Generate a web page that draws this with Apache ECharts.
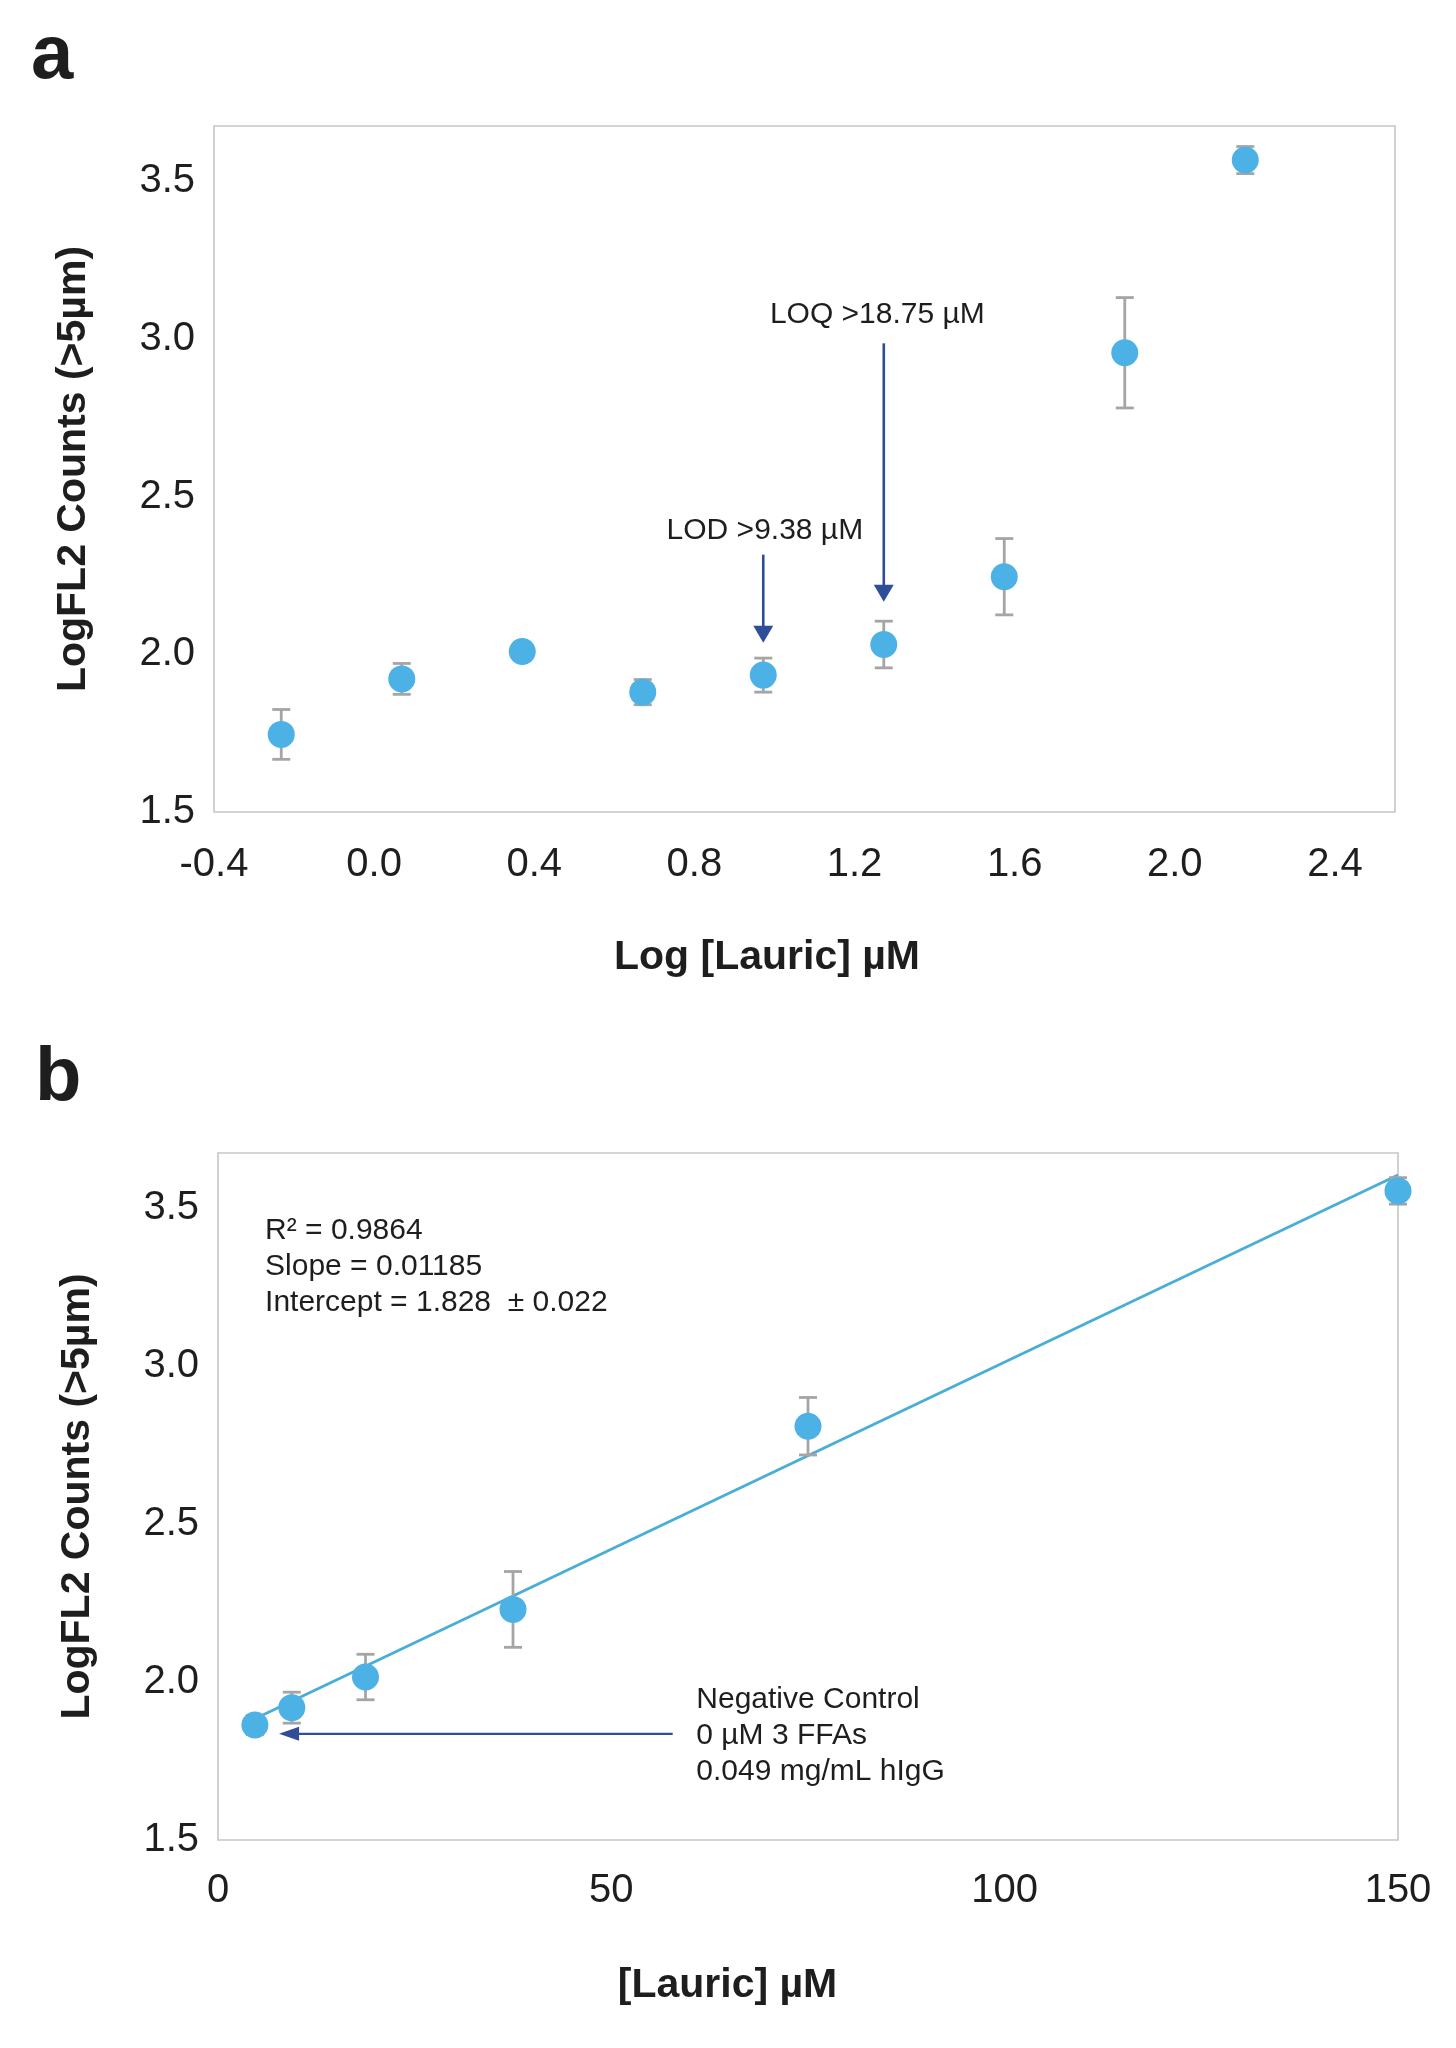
<!DOCTYPE html>
<html><head><meta charset="utf-8">
<script src="https://cdn.jsdelivr.net/npm/echarts@6/dist/echarts.min.js"></script>
<style>html,body{margin:0;padding:0;background:#fff}#c{width:1456px;height:2048px}</style>
</head><body><div id="c"></div>
<script>
// ---- Panel a data ----
const logLauric = [-0.232, 0.069, 0.370, 0.671, 0.972, 1.273, 1.574, 1.875, 2.176];
const logFL2A = [1.746, 1.922, 2.009, 1.880, 1.934, 2.031, 2.246, 2.956, 3.567];
const errA = [0.079, 0.049, 0.028, 0.040, 0.054, 0.074, 0.121, 0.175, 0.043];
const xTicksA = ['-0.4', '0.0', '0.4', '0.8', '1.2', '1.6', '2.0', '2.4'];
const yTicks = ['1.5', '2.0', '2.5', '3.0', '3.5'];
// ---- Panel b data ----
const lauric = [4.69, 9.38, 18.75, 37.5, 75, 150];
const logFL2B = [1.864, 1.919, 2.016, 2.230, 2.810, 3.555];
const errB = [0.030, 0.049, 0.072, 0.120, 0.091, 0.042];
const xTicksB = ['0', '50', '100', '150'];
const fitSlope = 0.01185, fitIntercept = 1.828;
const fitRange = [4.69, 150];
// ---- Annotations (data coordinates) ----
const lodArrow = [0.972, 2.316, 2.037];
const loqArrow = [1.273, 2.986, 2.167];
const lodLabel = [0.976, 2.393, 'LOD >9.38 µM'];
const loqLabel = [1.257, 3.078, 'LOQ >18.75 µM'];
const negArrow = [57.8, 7.76, 1.836];
const statsText = [5.98, 3.316, 'R² = 0.9864\nSlope = 0.01185\nIntercept = 1.828  ± 0.022'];
const negText = [60.8, 1.830, 'Negative Control\n0 µM 3 FFAs\n0.049 mg/mL hIgG'];

const FONT = "'Liberation Sans', Arial, sans-serif";
const MARK = '#4cb2e6', ERR = '#a5a5a5', ARROW = '#2f4e98', LINE = '#48aed8', TXT = '#1e1e1e';

const chart = echarts.init(document.getElementById('c'), null, {renderer: 'canvas'});

function errRender(params, api) {
  const x = api.value(0), y = api.value(1), e = api.value(2);
  const t = api.coord([x, y + e]), b = api.coord([x, y - e]);
  const hw = 9, st = {stroke: ERR, lineWidth: 2.8};
  return {type: 'group', children: [
    {type: 'line', shape: {x1: t[0], y1: t[1], x2: b[0], y2: b[1]}, style: st},
    {type: 'line', shape: {x1: t[0] - hw, y1: t[1], x2: t[0] + hw, y2: t[1]}, style: st},
    {type: 'line', shape: {x1: b[0] - hw, y1: b[1], x2: b[0] + hw, y2: b[1]}, style: st}
  ]};
}
function vArrowRender(params, api) {
  const x = api.value(0);
  const p0 = api.coord([x, api.value(1)]), p1 = api.coord([x, api.value(2)]);
  const ah = 17, aw = 10;
  return {type: 'group', children: [
    {type: 'line', shape: {x1: p0[0], y1: p0[1], x2: p1[0], y2: p1[1] - ah + 2}, style: {stroke: ARROW, lineWidth: 2.6}},
    {type: 'polygon', shape: {points: [[p1[0] - aw, p1[1] - ah], [p1[0] + aw, p1[1] - ah], [p1[0], p1[1]]]}, style: {fill: ARROW}}
  ]};
}
function hArrowRender(params, api) {
  const y = api.value(2);
  const p0 = api.coord([api.value(0), y]), p1 = api.coord([api.value(1), y]);
  const ah = 20, aw = 7;
  return {type: 'group', children: [
    {type: 'line', shape: {x1: p0[0], y1: p0[1], x2: p1[0] + ah - 2, y2: p1[1]}, style: {stroke: ARROW, lineWidth: 2.4}},
    {type: 'polygon', shape: {points: [[p1[0] + ah, p1[1] - aw], [p1[0] + ah, p1[1] + aw], [p1[0], p1[1]]]}, style: {fill: ARROW}}
  ]};
}
const annoText = {
  tA: [lodLabel[2], loqLabel[2]],
  tB: [statsText[2], negText[2]]
};
function textRender(align) {
  return function (params, api) {
    const p = api.coord([api.value(0), api.value(1)]);
    return {type: 'text', x: p[0], y: p[1], style: {
      text: annoText[params.seriesId][params.dataIndex], fill: TXT, font: '30px ' + FONT,
      align: align, verticalAlign: 'middle', lineHeight: 36
    }};
  };
}

function yAxis(gi) {
  return {
    type: 'value', gridIndex: gi, min: 1.5, max: 3.675, interval: 0.5,
    axisLine: {show: false}, axisTick: {show: false}, splitLine: {show: false},
    axisLabel: {showMaxLabel: false, margin: 19, fontSize: 40, fontFamily: FONT, color: TXT,
      formatter: v => yTicks[Math.round((v - 1.5) / 0.5)] || ''},
    name: 'LogFL2 Counts (>5µm)', nameLocation: 'middle', nameGap: 120,
    nameTextStyle: {fontSize: 41, fontWeight: 'bold', fontFamily: FONT, color: TXT}
  };
}

const option = {
  backgroundColor: '#fff',
  animation: false,
  title: [
    {text: 'a', left: 26, top: 14, textStyle: {fontSize: 76, fontWeight: 'bold', fontFamily: FONT, color: TXT}},
    {text: 'b', left: 30, top: 1036, textStyle: {fontSize: 76, fontWeight: 'bold', fontFamily: FONT, color: TXT}}
  ],
  grid: [
    {left: 214, top: 126, width: 1181, height: 686, show: true, borderColor: '#c6c6c6', borderWidth: 1.6, backgroundColor: '#fff'},
    {left: 218, top: 1153, width: 1180, height: 687, show: true, borderColor: '#c6c6c6', borderWidth: 1.6, backgroundColor: '#fff'}
  ],
  xAxis: [
    {type: 'value', gridIndex: 0, min: -0.4, max: 2.55, interval: 0.4,
      axisLine: {show: false}, axisTick: {show: false}, splitLine: {show: false},
      axisLabel: {showMaxLabel: false, margin: 33, fontSize: 40, fontFamily: FONT, color: TXT,
        formatter: v => xTicksA[Math.round((v + 0.4) / 0.4)] || ''},
      name: 'Log [Lauric] µM', nameLocation: 'middle', nameGap: 125,
      nameTextStyle: {fontSize: 41, fontWeight: 'bold', fontFamily: FONT, color: TXT, padding: [0, 75, 0, 0]}},
    {type: 'value', gridIndex: 1, min: 0, max: 150, interval: 50,
      axisLine: {show: false}, axisTick: {show: false}, splitLine: {show: false},
      axisLabel: {margin: 31, fontSize: 40, fontFamily: FONT, color: TXT,
        formatter: v => xTicksB[Math.round(v / 50)] || ''},
      name: '[Lauric] µM', nameLocation: 'middle', nameGap: 125,
      nameTextStyle: {fontSize: 41, fontWeight: 'bold', fontFamily: FONT, color: TXT, padding: [0, 161, 0, 0]}}
  ],
  yAxis: [yAxis(0), yAxis(1)],
  series: [
    // panel a
    {type: 'custom', xAxisIndex: 0, yAxisIndex: 0, z: 2, renderItem: errRender,
      encode: {x: 0, y: 1}, data: logLauric.map((x, i) => [x, logFL2A[i], errA[i]])},
    {type: 'scatter', xAxisIndex: 0, yAxisIndex: 0, z: 3, symbolSize: 27,
      itemStyle: {color: MARK, opacity: 1}, data: logLauric.map((x, i) => [x, logFL2A[i]])},
    {type: 'custom', xAxisIndex: 0, yAxisIndex: 0, z: 4, renderItem: vArrowRender,
      encode: {x: 0, y: 1}, data: [lodArrow, loqArrow]},
    {type: 'custom', id: 'tA', xAxisIndex: 0, yAxisIndex: 0, z: 4, renderItem: textRender('center'),
      encode: {x: 0, y: 1}, data: [[lodLabel[0], lodLabel[1]], [loqLabel[0], loqLabel[1]]]},
    // panel b
    {type: 'line', xAxisIndex: 1, yAxisIndex: 1, z: 1, symbol: 'none', silent: true,
      lineStyle: {color: LINE, width: 2.8},
      data: fitRange.map(x => [x, fitIntercept + fitSlope * x])},
    {type: 'custom', xAxisIndex: 1, yAxisIndex: 1, z: 2, renderItem: errRender,
      encode: {x: 0, y: 1}, data: lauric.map((x, i) => [x, logFL2B[i], errB[i]])},
    {type: 'scatter', xAxisIndex: 1, yAxisIndex: 1, z: 3, symbolSize: 27,
      itemStyle: {color: MARK, opacity: 1}, data: lauric.map((x, i) => [x, logFL2B[i]])},
    {type: 'custom', xAxisIndex: 1, yAxisIndex: 1, z: 4, renderItem: hArrowRender,
      encode: {x: 0, y: 2}, data: [negArrow]},
    {type: 'custom', id: 'tB', xAxisIndex: 1, yAxisIndex: 1, z: 4, renderItem: textRender('left'),
      encode: {x: 0, y: 1}, data: [[statsText[0], statsText[1]], [negText[0], negText[1]]]}
  ]
};
chart.setOption(option);
</script></body></html>
